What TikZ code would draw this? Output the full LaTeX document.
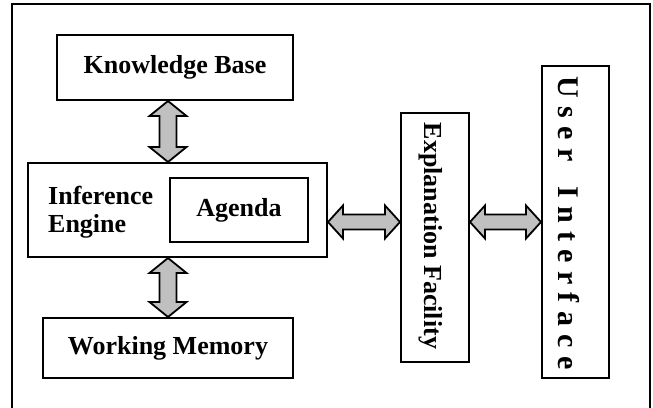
\documentclass[tikz,border=0pt]{standalone}
\usepackage{fontspec}
\setmainfont{Liberation Serif}
\usetikzlibrary{calc}
\definecolor{arrgray}{HTML}{C0C0C0}
\tikzset{
  blk/.style={draw=black, line width=2pt, rectangle, inner sep=0pt,
    font=\fontsize{26}{28}\selectfont\bfseries},
  dblarr/.style={draw=black, line width=1.8pt, fill=arrgray, line join=miter},
}
\newcommand\usp{\hspace{8.3pt}}
% vertical double arrow from #1 (top) to #2 (bottom)
\newcommand\myvarrow[2]{%
  \path[dblarr] let \p1=#1, \p2=#2 in
    (\x1,\y1) -- (\x1+18.5pt,\y1-15pt) -- (\x1+8.5pt,\y1-15pt) -- (\x1+8.5pt,\y2+15pt)
    -- (\x1+18.5pt,\y2+15pt) -- (\x1,\y2) -- (\x1-18.5pt,\y2+15pt) -- (\x1-8.5pt,\y2+15pt)
    -- (\x1-8.5pt,\y1-15pt) -- (\x1-18.5pt,\y1-15pt) -- cycle;}
% horizontal double arrow from #1 (left) to #2 (right)
\newcommand\myharrow[2]{%
  \path[dblarr] let \p1=#1, \p2=#2 in
    (\x1,\y1) -- (\x1+15pt,\y1+16.5pt) -- (\x1+15pt,\y1+7.5pt) -- (\x2-15pt,\y1+7.5pt)
    -- (\x2-15pt,\y1+16.5pt) -- (\x2,\y1) -- (\x2-15pt,\y1-16.5pt) -- (\x2-15pt,\y1-7.5pt)
    -- (\x1+15pt,\y1-7.5pt) -- (\x1+15pt,\y1-16.5pt) -- cycle;}
\begin{document}
\begin{tikzpicture}[x=1pt,y=-1pt]
\useasboundingbox (0,0) rectangle (653,407);
% outer frame (open at the bottom edge of the picture)
\draw[line width=2pt] (12,412) -- (12,4) -- (650,4) -- (650,412);

\node[blk, minimum width=236pt, minimum height=65pt] (kb) at (175,67.5) {Knowledge Base};
\node[blk, minimum width=299pt, minimum height=94pt] (ie) at (177.5,210) {};
\node[blk, minimum width=138pt, minimum height=64pt] (ag) at (239,210) {Agenda};
\node[font=\fontsize{26}{28}\selectfont\bfseries, align=left, inner sep=0pt, anchor=west] (iet) at (48,212) {Inference\\Engine};
\node[blk, minimum width=250pt, minimum height=60pt] (wm) at (168,348) {Working Memory};
\node[blk, minimum width=68pt, minimum height=249pt] (ef) at (435,237.5) {};
\node[font=\fontsize{26}{28}\selectfont\bfseries, rotate=-90, inner sep=0pt] (eft) at (431,236) {Explanation Facility};
\node[blk, minimum width=67pt, minimum height=312pt] (ui) at (575.5,222) {};
\node[font=\fontsize{30}{30}\selectfont\bfseries, rotate=-90, inner sep=0pt] (uit) at (569,223)
  {U\usp s\usp e\usp r\usp\usp\usp I\usp n\usp t\usp e\usp r\usp f\usp a\usp c\usp e};

\coordinate (ha) at (0,222);
\myvarrow{(kb.south -| wm.north)}{(ie.north -| wm.north)}
\myvarrow{(ie.south -| wm.north)}{(wm.north)}
\myharrow{(ie.east |- ha)}{(ef.west |- ha)}
\myharrow{(ef.east |- ha)}{(ui.west |- ha)}
\end{tikzpicture}
\end{document}
